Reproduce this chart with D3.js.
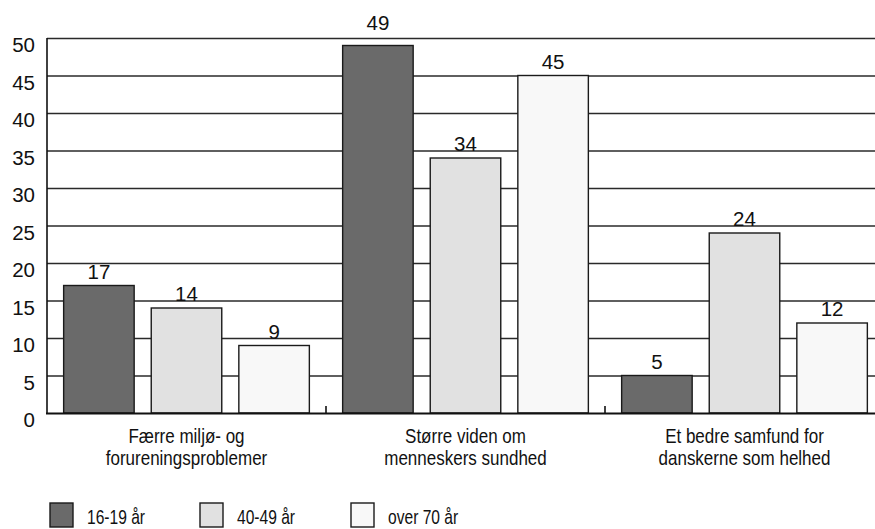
<!DOCTYPE html>
<html>
<head>
<meta charset="utf-8">
<script src="https://cdn.jsdelivr.net/npm/d3@7"></script>
<style>
  body { margin: 0; background: #fff; }
  svg { display: block; }
  text { font-family: "Liberation Sans", Arial, sans-serif; }
</style>
</head>
<body>
<div id="chart"></div>
<script>
// data
var categories = [
    ["Færre miljø- og", "forureningsproblemer"],
    ["Større viden om", "menneskers sundhed"],
    ["Et bedre samfund for", "danskerne som helhed"]
];
var series = ["16-19 år", "40-49 år", "over 70 år"];
var values16 = [17, 49, 5];
var values40 = [14, 34, 24];
var values70 = [9, 45, 12];
var yTicks = [0, 5, 10, 15, 20, 25, 30, 35, 40, 45, 50];
var colors = ["#6a6a6a", "#e1e1e1", "#f8f8f8"];

function main() {
    var width = 875, height = 529;
    var left = 47, top = 38, bottom = 413, right = 884;
    var squeeze = 0.81; // the original uses a condensed face

    var svg = d3.select("#chart")
        .append("svg")
        .attr("width", width)
        .attr("height", height);

    var allValues = [values16, values40, values70];
    var data = [];
    categories.forEach(function (c, i) {
        series.forEach(function (s, j) {
            data.push({ cat: i, series: j, value: allValues[j][i] });
        });
    });

    // scales
    var x = d3.scaleBand()
        .domain(d3.range(categories.length))
        .range([left, right]);
    var xs = d3.scaleBand()
        .domain(d3.range(series.length))
        .range([0, x.bandwidth()])
        .paddingInner(0.195)
        .paddingOuter(0.19);
    var y = d3.scaleLinear()
        .domain([0, 50])
        .range([bottom, top]);

    // gridlines
    svg.append("g")
        .selectAll("line")
        .data(yTicks.filter(function (d) { return d > 0; }))
        .enter()
        .append("line")
        .attr("x1", left)
        .attr("x2", width)
        .attr("y1", function (d) { return y(d) + 0.5; })
        .attr("y2", function (d) { return y(d) + 0.5; })
        .attr("stroke", "#2a2a2a")
        .attr("stroke-width", 1.3);

    // y labels
    svg.append("g")
        .selectAll("text")
        .data(yTicks)
        .enter()
        .append("text")
        .attr("x", 35)
        .attr("y", function (d) { return y(d) + 14; })
        .attr("text-anchor", "end")
        .attr("font-size", "20.5px")
        .attr("fill", "#111")
        .text(function (d) { return d; });

    // bars
    svg.append("g")
        .selectAll("rect")
        .data(data)
        .enter()
        .append("rect")
        .attr("x", function (d) { return x(d.cat) + xs(d.series); })
        .attr("width", xs.bandwidth())
        .attr("y", function (d) { return y(d.value); })
        .attr("height", function (d) { return y(0) - y(d.value); })
        .attr("fill", function (d) { return colors[d.series]; })
        .attr("stroke", "#1a1a1a")
        .attr("stroke-width", 1.4);

    // value labels above bars (kept above the top frame line)
    svg.append("g")
        .selectAll("text")
        .data(data)
        .enter()
        .append("text")
        .attr("x", function (d) { return x(d.cat) + xs(d.series) + xs.bandwidth() / 2; })
        .attr("y", function (d) {
            var yy = y(d.value) - 7;
            if (yy - 14 < top + 2) yy = top - 8;
            return yy;
        })
        .attr("text-anchor", "middle")
        .attr("font-size", "20.5px")
        .attr("fill", "#111")
        .text(function (d) { return d.value; });

    // axes lines
    svg.append("line")
        .attr("x1", left).attr("x2", left)
        .attr("y1", top).attr("y2", bottom + 1)
        .attr("stroke", "#111").attr("stroke-width", 1.6);
    svg.append("line")
        .attr("x1", left - 1).attr("x2", width)
        .attr("y1", bottom + 0.5).attr("y2", bottom + 0.5)
        .attr("stroke", "#111").attr("stroke-width", 2.2);

    // category separator ticks
    svg.append("g")
        .selectAll("line")
        .data(d3.range(1, categories.length))
        .enter()
        .append("line")
        .attr("x1", function (d) { return x(d); })
        .attr("x2", function (d) { return x(d); })
        .attr("y1", bottom - 7)
        .attr("y2", bottom)
        .attr("stroke", "#111")
        .attr("stroke-width", 1.6);

    // category labels
    var cat = svg.append("g")
        .selectAll("text")
        .data(categories)
        .enter()
        .append("text")
        .attr("text-anchor", "middle")
        .attr("font-size", "21px")
        .attr("fill", "#111")
        .attr("transform", function (d, i) {
            return "translate(" + (x(i) + x.bandwidth() / 2) + ",443) scale(" + squeeze + ",1)";
        });
    cat.selectAll("tspan")
        .data(function (d) { return d; })
        .enter()
        .append("tspan")
        .attr("x", 0)
        .attr("y", function (d, i) { return i * 22; })
        .text(function (d) { return d; });

    // legend
    var legendX = [50, 200, 351];
    var lg = svg.append("g")
        .selectAll("g")
        .data(series)
        .enter()
        .append("g")
        .attr("transform", function (d, i) { return "translate(" + legendX[i] + ",503)"; });
    lg.append("rect")
        .attr("width", 23)
        .attr("height", 24)
        .attr("fill", function (d, i) { return colors[i]; })
        .attr("stroke", "#1a1a1a")
        .attr("stroke-width", 1.4);
    lg.append("text")
        .attr("font-size", "20px")
        .attr("fill", "#111")
        .attr("transform", "translate(37,21) scale(0.78,1)")
        .text(function (d) { return d; });
}
window.addEventListener('load', main);
</script>
</body>
</html>
